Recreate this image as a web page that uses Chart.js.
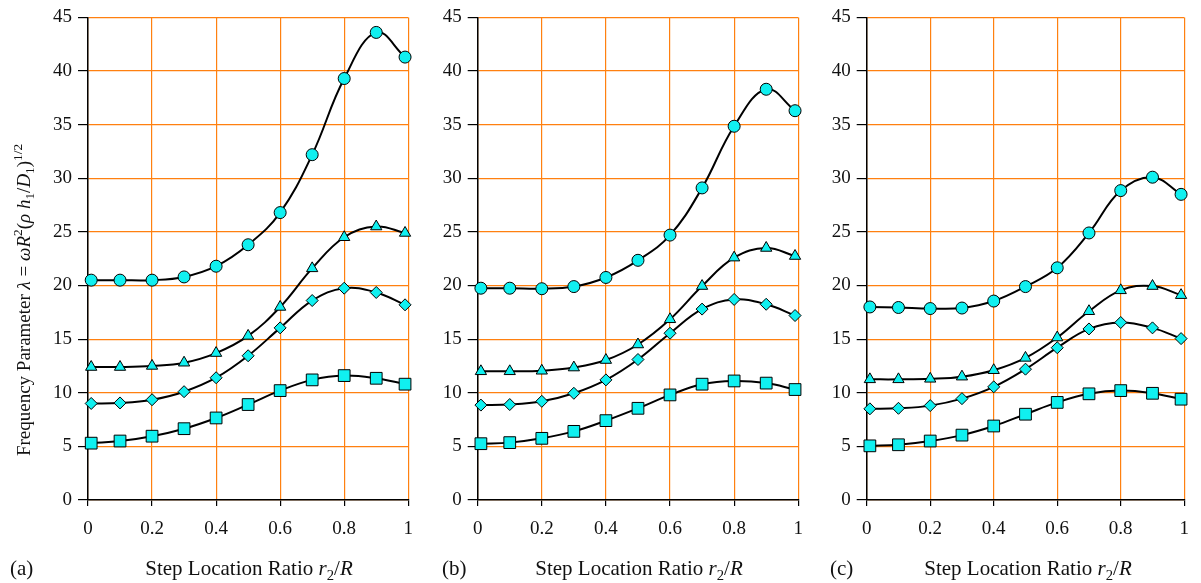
<!DOCTYPE html>
<html>
<head>
<meta charset="utf-8">
<script src="https://cdn.jsdelivr.net/npm/chart.js@4.4.0/dist/chart.umd.min.js"></script>
<style>
  html, body { margin: 0; padding: 0; background: #fff; }
  #wrap { position: relative; width: 1201px; height: 583px; overflow: hidden; font-family: "Liberation Serif", "Times New Roman", serif; color: #111; }
  canvas { position: absolute; top: 0; }
  .lbl { position: absolute; font-size: 21px; line-height: 21px; white-space: nowrap; }
  .ttl { position: absolute; font-size: 21px; line-height: 21px; white-space: nowrap; transform: translateX(-50%); }
  sub, sup { font-size: 70%; line-height: 0; }
  #ylab { position: absolute; left: 23px; top: 300px; font-size: 19px; line-height: 19px; white-space: nowrap; transform: translate(-50%, -50%) rotate(-90deg); }
</style>
</head>
<body>
<div id="wrap">
  <canvas id="ca" width="425" height="583" style="left:0px"></canvas>
  <canvas id="cb" width="415" height="583" style="left:400px"></canvas>
  <canvas id="cc" width="411" height="583" style="left:790px"></canvas>
  <div id="ylab">Frequency Parameter <i>λ</i> = <i>ωR</i><sup>2</sup>(<i>ρ</i> <i>h</i><sub>1</sub>/<i>D</i><sub>1</sub>)<sup>1/2</sup></div>
  <div class="lbl" style="left:10px; top:558px">(a)</div>
  <div class="lbl" style="left:442px; top:558px">(b)</div>
  <div class="lbl" style="left:830px; top:558px">(c)</div>
  <div class="ttl" style="left:249px; top:558px">Step Location Ratio <i>r</i><sub>2</sub>/<i>R</i></div>
  <div class="ttl" style="left:639px; top:558px">Step Location Ratio <i>r</i><sub>2</sub>/<i>R</i></div>
  <div class="ttl" style="left:1028px; top:558px">Step Location Ratio <i>r</i><sub>2</sub>/<i>R</i></div>
</div>
<script>
// ---- data ----
const xValues = [0.01, 0.1, 0.2, 0.3, 0.4, 0.5, 0.6, 0.7, 0.8, 0.9, 0.99];

const aCircle   = [20.5, 20.5, 20.5, 20.8, 21.8, 23.8, 26.8, 32.2, 39.3, 43.6, 41.3];
const aTriangle = [12.4, 12.4, 12.5, 12.8, 13.7, 15.3, 18.0, 21.6, 24.5, 25.5, 24.9];
const aDiamond  = [9.0, 9.05, 9.35, 10.1, 11.4, 13.45, 16.05, 18.6, 19.75, 19.35, 18.2];
const aSquare   = [5.3, 5.5, 5.95, 6.65, 7.65, 8.9, 10.2, 11.2, 11.6, 11.35, 10.8];

const bCircle   = [19.75, 19.75, 19.7, 19.9, 20.75, 22.35, 24.7, 29.1, 34.85, 38.3, 36.3];
const bTriangle = [12.0, 12.0, 12.05, 12.35, 13.05, 14.5, 16.85, 19.95, 22.6, 23.5, 22.75];
const bDiamond  = [8.85, 8.9, 9.2, 9.95, 11.2, 13.1, 15.55, 17.8, 18.7, 18.25, 17.2];
const bSquare   = [5.25, 5.35, 5.75, 6.4, 7.4, 8.55, 9.8, 10.8, 11.1, 10.9, 10.3];

const cCircle   = [18.0, 17.95, 17.85, 17.9, 18.55, 19.9, 21.65, 24.9, 28.85, 30.1, 28.5];
const cTriangle = [11.25, 11.25, 11.3, 11.5, 12.1, 13.25, 15.15, 17.6, 19.55, 19.95, 19.1];
const cDiamond  = [8.5, 8.55, 8.8, 9.45, 10.55, 12.2, 14.2, 15.95, 16.55, 16.05, 15.05];
const cSquare   = [5.05, 5.15, 5.5, 6.05, 6.9, 8.0, 9.1, 9.9, 10.2, 9.95, 9.4];

const xTickStep = 0.2;
const yTickStep = 5;

// ---- styling ----
const ORANGE = '#FF8010';
const CYAN = '#10F0F0';
const FONT = { family: '"Liberation Serif", "Times New Roman", serif', size: 19 };

function ds(values, style, radius) {
  return {
    data: xValues.map((x, i) => ({ x: x, y: values[i] })),
    borderColor: '#000',
    borderWidth: 2,
    tension: 0.4,
    pointStyle: style,
    pointRadius: radius,
    pointBackgroundColor: CYAN,
    pointBorderColor: '#000',
    pointBorderWidth: 1,
    clip: false,
    fill: false
  };
}

function makeChart(id, series, yWidth, padRight) {
  const ctx = document.getElementById(id);
  new Chart(ctx, {
    type: 'line',
    data: {
      datasets: [
        ds(series[3], 'rect', 8.3),
        ds(series[2], 'rectRot', 6),
        ds(series[1], 'triangle', 6.5),
        ds(series[0], 'circle', 6)
      ]
    },
    options: {
      responsive: false,
      animation: false,
      devicePixelRatio: 1,
      layout: { padding: { left: 0, right: padRight, top: 15, bottom: 0 } },
      plugins: { legend: { display: false }, tooltip: { enabled: false } },
      scales: {
        x: {
          type: 'linear', min: 0, max: 1,
          ticks: {
            stepSize: xTickStep, font: FONT, color: '#111', padding: 12, maxRotation: 0,
            callback: function (v) { return String(Math.round(v * 10) / 10); }
          },
          grid: { color: ORANGE, lineWidth: 1.2, tickColor: '#000', tickLength: 6 },
          border: { color: '#000', width: 1.5 },
          afterFit: function (s) { s.height = 83; }
        },
        y: {
          min: 0, max: 45,
          ticks: { stepSize: yTickStep, font: FONT, color: '#111', padding: 6 },
          grid: { color: ORANGE, lineWidth: 1.2, tickColor: '#000', tickLength: 10 },
          border: { color: '#000', width: 1.5 },
          afterFit: function (s) { s.width = yWidth; }
        }
      }
    }
  });
}

makeChart('ca', [aCircle, aTriangle, aDiamond, aSquare], 88, 14.3);
makeChart('cb', [bCircle, bTriangle, bDiamond, bSquare], 77.7, 15);
makeChart('cc', [cCircle, cTriangle, cDiamond, cSquare], 76.7, 11.7);
</script>
</body>
</html>
